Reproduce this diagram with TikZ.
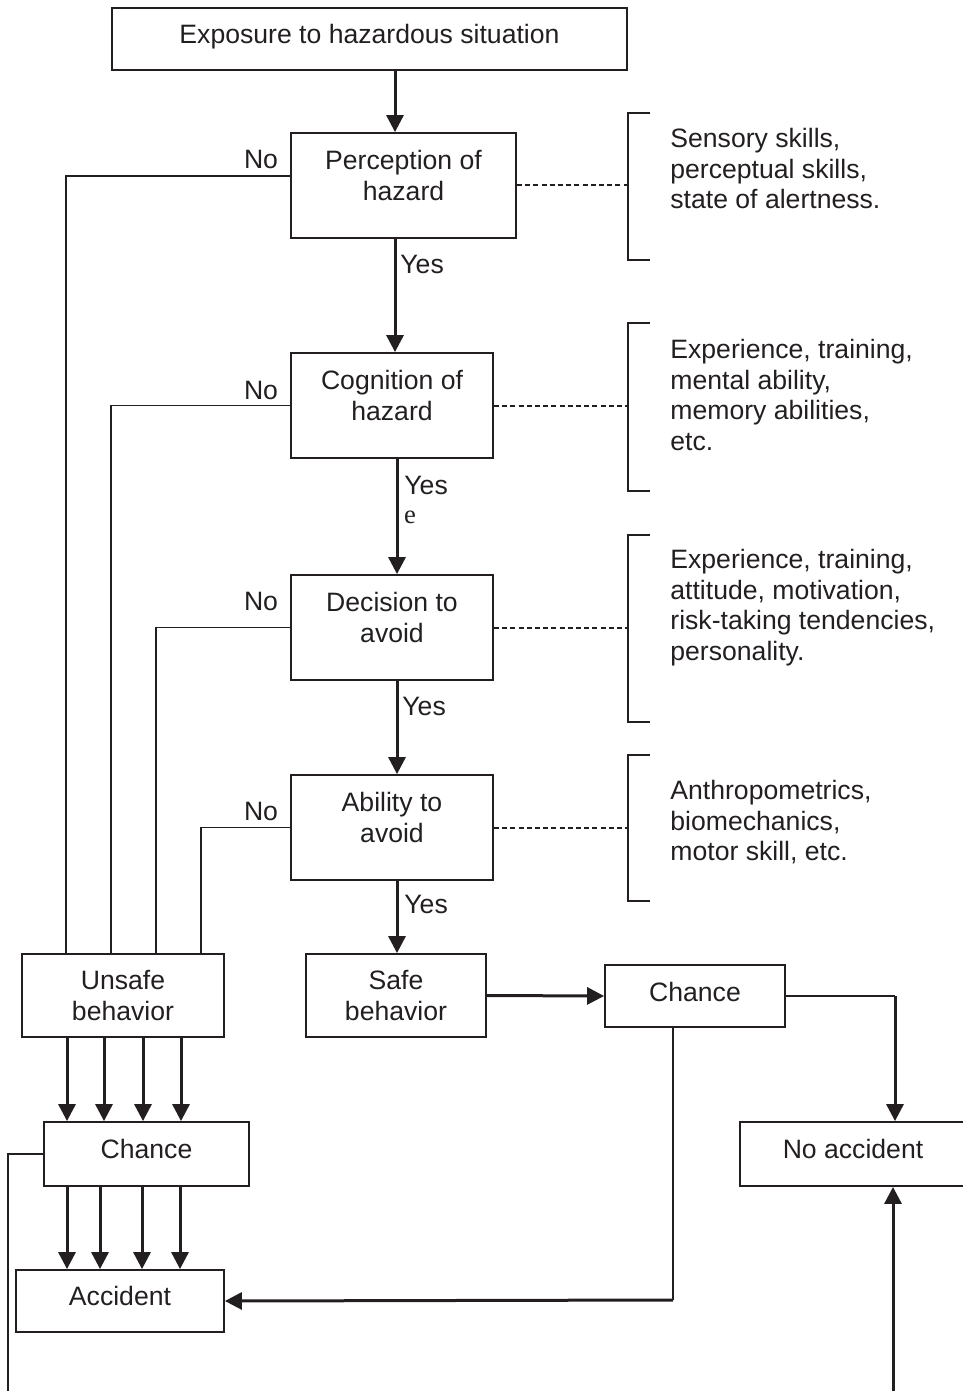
\documentclass[tikz,border=0pt]{standalone}
\usepackage{fontspec}
\setmainfont{Liberation Sans}
\newfontfamily\strayfont{Liberation Serif}
\usetikzlibrary{arrows.meta}
\begin{document}
\begin{tikzpicture}[x=0.5pt, y=-0.5pt,
        every node/.style={font=\fontsize{13.3}{15.25}\selectfont, text=inkcolor},
        box/.style={draw=inkcolor, line width=0.9pt, inner sep=0pt},
        boxtext/.style={align=center, inner sep=0pt},
        sidetext/.style={align=left, anchor=north west, inner sep=0pt},
        link/.style={draw=inkcolor, line width=0.75pt},
        flow/.style={draw=inkcolor, line width=1.5pt, -{Triangle[length=8.5pt,width=8.5pt]}},
        guide/.style={draw=inkcolor, line width=1pt, dash pattern=on 2.5pt off 1.6pt},
        bracket/.style={draw=inkcolor, line width=0.75pt}]
        % -- colour definitions --------------------------------------------------
        \definecolor{inkcolor}{RGB}{35,31,32}

        \useasboundingbox (0,0) rectangle (963,1391);

        % -- main chain of boxes -------------------------------------------------
        \node[box, minimum width=257.5pt, minimum height=31pt] (expo) at (369.5,39) {};
        \node[boxtext] (expo-t) at ([yshift=1pt]expo.center) {Exposure to hazardous situation};
        \node[box, minimum width=112.5pt, minimum height=52.5pt] (perc) at (403.5,185.5) {};
        \node[boxtext] (perc-t) at ([yshift=5pt]perc.center) {Perception of\\hazard};
        \node[box, minimum width=101pt, minimum height=52.5pt] (cogn) at (392,405.5) {};
        \node[boxtext] (cogn-t) at ([yshift=5pt]cogn.center) {Cognition of\\hazard};
        \node[box, minimum width=101pt, minimum height=52.5pt] (deci) at (392,627.5) {};
        \node[boxtext] (deci-t) at ([yshift=5pt]deci.center) {Decision to\\avoid};
        \node[box, minimum width=101pt, minimum height=52.5pt] (abil) at (392,827.5) {};
        \node[boxtext] (abil-t) at ([yshift=5pt]abil.center) {Ability to\\avoid};

        % -- outcome boxes -------------------------------------------------------
        \node[box, minimum width=101pt, minimum height=41.5pt] (unsafe) at (123,995.5) {};
        \node[boxtext] (unsafe-t) at (unsafe.center) {Unsafe\\behavior};
        \node[box, minimum width=90pt, minimum height=41.5pt] (safe) at (396,995.5) {};
        \node[boxtext] (safe-t) at (safe.center) {Safe\\behavior};
        \node[box, minimum width=90pt, minimum height=31pt] (chanceR) at (695,996) {};
        \node[boxtext] (chanceR-t) at ([yshift=2pt]chanceR.center) {Chance};
        \node[box, minimum width=102.5pt, minimum height=32pt] (chanceL) at (146.5,1154) {};
        \node[boxtext] (chanceL-t) at ([yshift=2.5pt]chanceL.center) {Chance};
        \node[box, minimum width=104pt, minimum height=31pt] (accid) at (120,1301) {};
        \node[boxtext] (accid-t) at ([yshift=2.5pt]accid.center) {Accident};
        \node[box, minimum width=113pt, minimum height=32pt] (noacc) at (853,1154) {};
        \node[boxtext] (noacc-t) at ([yshift=2.5pt]noacc.center) {No accident};

        % -- factor lists on the right -------------------------------------------
        \foreach \ya/\yb in {113/260, 323/491, 535/722, 755/901} {
            \draw[bracket] (650,\ya) -- (628,\ya) -- (628,\yb) -- (650,\yb);
        }
        \node[sidetext] (perc-f) at (670,128) {Sensory skills,\\perceptual skills,\\state of alertness.};
        \node[sidetext] (cogn-f) at (670,339) {Experience, training,\\mental ability,\\memory abilities,\\etc.};
        \node[sidetext] (deci-f) at (670,549) {Experience, training,\\attitude, motivation,\\risk-taking tendencies,\\personality.};
        \node[sidetext] (abil-f) at (670,780) {Anthropometrics,\\biomechanics,\\motor skill, etc.};
        \foreach \stage in {perc, cogn, deci, abil} {
            \draw[guide] (\stage.east) -- (\stage.east -| 627,0);
        }

        % -- yes branch ----------------------------------------------------------
        \draw[flow] (expo.south -| 395,0) -- (perc.north -| 395,0);
        \draw[flow] (perc.south -| 395,0) -- (cogn.north -| 395,0);
        \draw[flow] (cogn.south -| 397,0) -- (deci.north -| 397,0);
        \draw[flow] (deci.south -| 397,0) -- (abil.north -| 397,0);
        \draw[flow] (abil.south -| 397,0) -- (safe.north -| 397,0);
        \node[anchor=west, inner sep=0pt] (yes1) at (400,264) {Yes};
        \node[anchor=west, inner sep=0pt] (yes2) at (404,485) {Yes};
        \node[anchor=west, inner sep=0pt] (yes3) at (402,706) {Yes};
        \node[anchor=west, inner sep=0pt] (yes4) at (404,904) {Yes};
        \node[inner sep=0pt, font=\strayfont\fontsize{13.3}{15.25}\selectfont] (stray) at (410,517) {e};

        % -- no branch -----------------------------------------------------------
        \draw[link] ([yshift=4.75pt]perc.west) -| ([xshift=22.5pt]unsafe.north west);
        \draw[link] (cogn.west) -| ([xshift=45pt]unsafe.north west);
        \draw[link] (deci.west) -| ([xshift=67.5pt]unsafe.north west);
        \draw[link] (abil.west) -| ([xshift=90pt]unsafe.north west);
        \node[inner sep=0pt] (no1) at (261,159) {No};
        \node[inner sep=0pt] (no2) at (261,390) {No};
        \node[inner sep=0pt] (no3) at (261,601) {No};
        \node[inner sep=0pt] (no4) at (261,811) {No};

        % -- chance and outcomes -------------------------------------------------
        \foreach \x in {67,104,143,181} {
            \draw[flow] (unsafe.south -| \x,0) -- (chanceL.north -| \x,0);
        }
        \foreach \x in {67,100,142,180} {
            \draw[flow] (chanceL.south -| \x,0) -- (accid.north -| \x,0);
        }
        \draw[flow] (safe.east) -- (chanceR.west);
        \coordinate (turn1) at (895,996);
        \coordinate (turn2) at (673,1300);
        \coordinate (rise) at (893,1391);
        \coordinate (drop) at (8,1391);
        \draw[link] (chanceR.east) -- (turn1);
        \draw[flow] (turn1) -- (turn1 |- noacc.north);
        \draw[link] (chanceR.south -| turn2) -- (turn2);
        \draw[flow] (turn2) -- (accid.east);
        \draw[flow] (rise) -- (rise |- noacc.south);
        \draw[link] (chanceL.west) -| (drop);
    \end{tikzpicture}
\end{document}
